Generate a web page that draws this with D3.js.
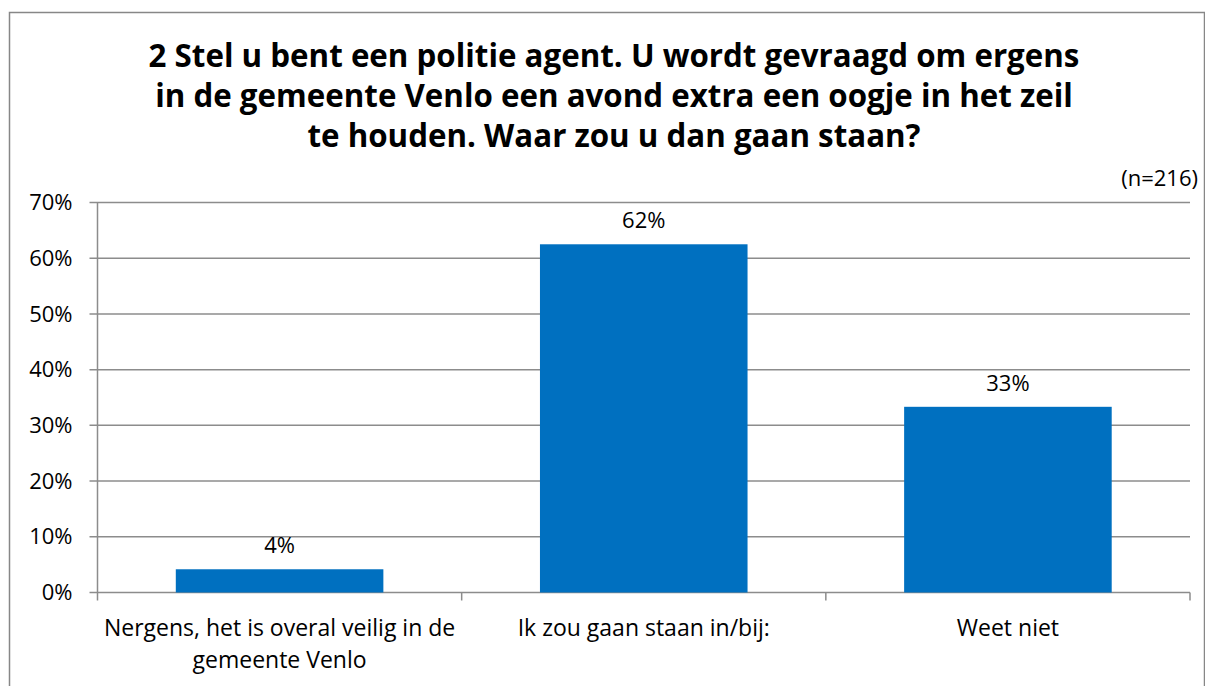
<!DOCTYPE html>
<meta charset="utf-8">
<style>
body { margin: 0; background: #fff; }
text { font-family: "Open Sans", "Noto Sans", sans-serif; fill: #000; }
.grid line { stroke: #8c8c8c; stroke-width: 1.5px; }
</style>
<body>
<script src="https://cdn.jsdelivr.net/npm/d3@7/dist/d3.min.js"></script>
<script>

var categories = [
  ["Nergens, het is overal veilig in de", "gemeente Venlo"],
  ["Ik zou gaan staan in/bij:"],
  ["Weet niet"]
];
var values = [4.17, 62.5, 33.33];
var valueLabels = ["4%", "62%", "33%"];
var yTicks = [0, 10, 20, 30, 40, 50, 60, 70];
var titleLines = [
  "2 Stel u bent een politie agent. U wordt gevraagd om ergens",
  "in de gemeente Venlo een avond extra een oogje in het zeil",
  "te houden. Waar zou u dan gaan staan?"
];
var note = "(n=216)";

var W = 1205, H = 686;
var margin = {top: 202.5, right: 15, bottom: 93.5, left: 97.5};
var width = 1190 - margin.left,
    height = 592.5 - margin.top;

var svg = d3.select("body").append("svg")
    .attr("width", W)
    .attr("height", H);

// outer chart border
svg.append("rect")
    .attr("x", 9.5).attr("y", 12.5)
    .attr("width", W - 10).attr("height", H)
    .attr("fill", "none")
    .attr("stroke", "#878787")
    .attr("stroke-width", 1.5);

// title
svg.append("g").selectAll("text")
    .data(titleLines)
  .enter().append("text")
    .attr("x", 614)
    .attr("y", function(d, i) { return 67 + i * 40; })
    .attr("text-anchor", "middle")
    .attr("font-size", "31.3px")
    .attr("font-weight", "bold")
    .text(function(d) { return d; });

svg.append("text")
    .attr("x", 1198)
    .attr("y", 186)
    .attr("text-anchor", "end")
    .attr("font-size", "22px")
    .text(note);

var g = svg.append("g")
    .attr("transform", "translate(" + margin.left + "," + margin.top + ")");

var x = d3.scaleBand()
    .domain(d3.range(categories.length))
    .range([0, width])
    .paddingInner(0.43)
    .paddingOuter(0.215);

var y = d3.scaleLinear().domain([0, 70]).range([height, 0]);

// gridlines
g.append("g")
    .attr("class", "grid")
    .selectAll("line")
    .data(yTicks)
  .enter().append("line")
    .attr("x1", -8)
    .attr("x2", width)
    .attr("y1", function(d) { return y(d); })
    .attr("y2", function(d) { return y(d); });

// y tick labels
g.append("g").selectAll("text")
    .data(yTicks)
  .enter().append("text")
    .attr("x", -25)
    .attr("y", function(d) { return y(d); })
    .attr("dy", "0.35em")
    .attr("text-anchor", "end")
    .attr("font-size", "22px")
    .text(function(d) { return d + "%"; });

// y axis line
g.append("line")
    .attr("x1", 0).attr("x2", 0)
    .attr("y1", 0).attr("y2", height + 8)
    .attr("stroke", "#8c8c8c")
    .attr("stroke-width", 1.5);

// bottom ticks between categories
var step = x.step();
g.append("g").selectAll("line")
    .data(d3.range(1, categories.length + 1))
  .enter().append("line")
    .attr("x1", function(d) { return d * step; })
    .attr("x2", function(d) { return d * step; })
    .attr("y1", height)
    .attr("y2", height + 8)
    .attr("stroke", "#8c8c8c")
    .attr("stroke-width", 1.5);

// bars
g.append("g").selectAll("rect")
    .data(values)
  .enter().append("rect")
    .attr("x", function(d, i) { return x(i); })
    .attr("width", x.bandwidth())
    .attr("y", function(d) { return y(d); })
    .attr("height", function(d) { return height - y(d); })
    .attr("fill", "#0070c0");

// value labels
g.append("g").selectAll("text")
    .data(values)
  .enter().append("text")
    .attr("x", function(d, i) { return x(i) + x.bandwidth() / 2; })
    .attr("y", function(d) { return y(d) - 16; })
    .attr("text-anchor", "middle")
    .attr("font-size", "22px")
    .text(function(d, i) { return valueLabels[i]; });

// category labels
var cat = g.append("g").selectAll("text")
    .data(categories)
  .enter().append("text")
    .attr("x", function(d, i) { return x(i) + x.bandwidth() / 2; })
    .attr("y", height + 43)
    .attr("text-anchor", "middle")
    .attr("font-size", "23px");

cat.selectAll("tspan")
    .data(function(d) { return d; })
  .enter().append("tspan")
    .attr("x", function() { return d3.select(this.parentNode).attr("x"); })
    .attr("dy", function(d, i) { return i ? 32 : 0; })
    .text(function(d) { return d; });

</script>
</body>
</html>
